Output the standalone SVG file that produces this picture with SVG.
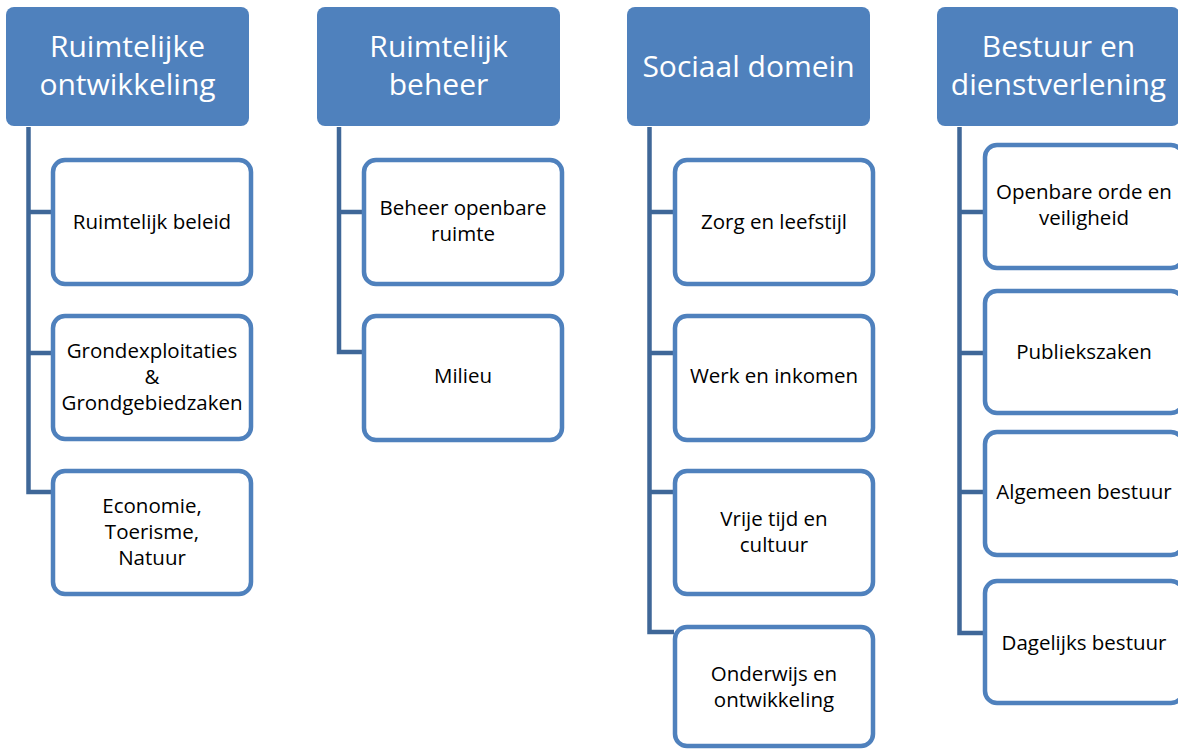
<svg xmlns="http://www.w3.org/2000/svg" width="1178" height="749" viewBox="0 0 1178 749">
<style>
.hd{fill:#4F81BD}
.bx{fill:#FFFFFF;stroke:#4F81BD;stroke-width:4.5}
.ht{font-family:"Open Sans",Lato,sans-serif;font-size:30px;fill:#FFFFFF;text-anchor:middle}
.ct{font-family:"Open Sans",Lato,sans-serif;font-size:20.5px;fill:#000000;text-anchor:middle}
.cn{fill:none;stroke:#3F6798;stroke-width:4.5;stroke-linejoin:miter}
</style>
<rect width="1178" height="749" fill="#FFFFFF"/>
<g id="connectors">
<path class="cn" d="M28.5,127 V492 H52 M28.5,212 H52 M28.5,353 H52"/>
<path class="cn" d="M339,127 V352 H363 M339,212 H363"/>
<path class="cn" d="M649.5,127 V632 H674 M649.5,212 H674 M649.5,353 H674 M649.5,492 H674"/>
<path class="cn" d="M959.5,127 V633 H984 M959.5,212 H984 M959.5,353 H984 M959.5,492 H984"/>
</g>
<g id="h1"><rect class="hd" x="6" y="7" width="243" height="119" rx="8"/><text class="ht" x="127.5" y="57">Ruimtelijke</text><text class="ht" x="127.5" y="95">ontwikkeling</text></g>
<g id="h2"><rect class="hd" x="317" y="7" width="243" height="119" rx="8"/><text class="ht" x="438.5" y="57">Ruimtelijk</text><text class="ht" x="438.5" y="95">beheer</text></g>
<g id="h3"><rect class="hd" x="627" y="7" width="243" height="119" rx="8"/><text class="ht" x="748.5" y="77">Sociaal domein</text></g>
<g id="h4"><rect class="hd" x="937" y="7" width="243" height="119" rx="8"/><text class="ht" x="1058.5" y="57">Bestuur en</text><text class="ht" x="1058.5" y="95">dienstverlening</text></g>

<g id="c1a"><rect class="bx" x="53" y="160" width="198" height="124" rx="12"/><text class="ct" x="152" y="229">Ruimtelijk beleid</text></g>
<g id="c1b"><rect class="bx" x="53" y="316" width="198" height="123" rx="12"/><text class="ct" x="152" y="358">Grondexploitaties</text><text class="ct" x="152" y="384">&amp;</text><text class="ct" x="152" y="410">Grondgebiedzaken</text></g>
<g id="c1c"><rect class="bx" x="53" y="471" width="198" height="123" rx="12"/><text class="ct" x="152" y="513">Economie,</text><text class="ct" x="152" y="539">Toerisme,</text><text class="ct" x="152" y="565">Natuur</text></g>

<g id="c2a"><rect class="bx" x="364" y="160" width="198" height="124" rx="12"/><text class="ct" x="463" y="215">Beheer openbare</text><text class="ct" x="463" y="241">ruimte</text></g>
<g id="c2b"><rect class="bx" x="364" y="316" width="198" height="124" rx="12"/><text class="ct" x="463" y="383">Milieu</text></g>

<g id="c3a"><rect class="bx" x="675" y="160" width="198" height="124" rx="12"/><text class="ct" x="774" y="229">Zorg en leefstijl</text></g>
<g id="c3b"><rect class="bx" x="675" y="316" width="198" height="124" rx="12"/><text class="ct" x="774" y="383">Werk en inkomen</text></g>
<g id="c3c"><rect class="bx" x="675" y="471" width="198" height="123" rx="12"/><text class="ct" x="774" y="526">Vrije tijd en</text><text class="ct" x="774" y="552">cultuur</text></g>
<g id="c3d"><rect class="bx" x="675" y="627" width="198" height="119" rx="12"/><text class="ct" x="774" y="681">Onderwijs en</text><text class="ct" x="774" y="707">ontwikkeling</text></g>

<g id="c4a"><rect class="bx" x="985" y="145" width="198" height="123" rx="12"/><text class="ct" x="1084" y="199">Openbare orde en</text><text class="ct" x="1084" y="225">veiligheid</text></g>
<g id="c4b"><rect class="bx" x="985" y="291" width="198" height="122" rx="12"/><text class="ct" x="1084" y="359">Publiekszaken</text></g>
<g id="c4c"><rect class="bx" x="985" y="432" width="198" height="123" rx="12"/><text class="ct" x="1084" y="499">Algemeen bestuur</text></g>
<g id="c4d"><rect class="bx" x="985" y="581" width="198" height="122" rx="12"/><text class="ct" x="1084" y="650">Dagelijks bestuur</text></g>
</svg>
